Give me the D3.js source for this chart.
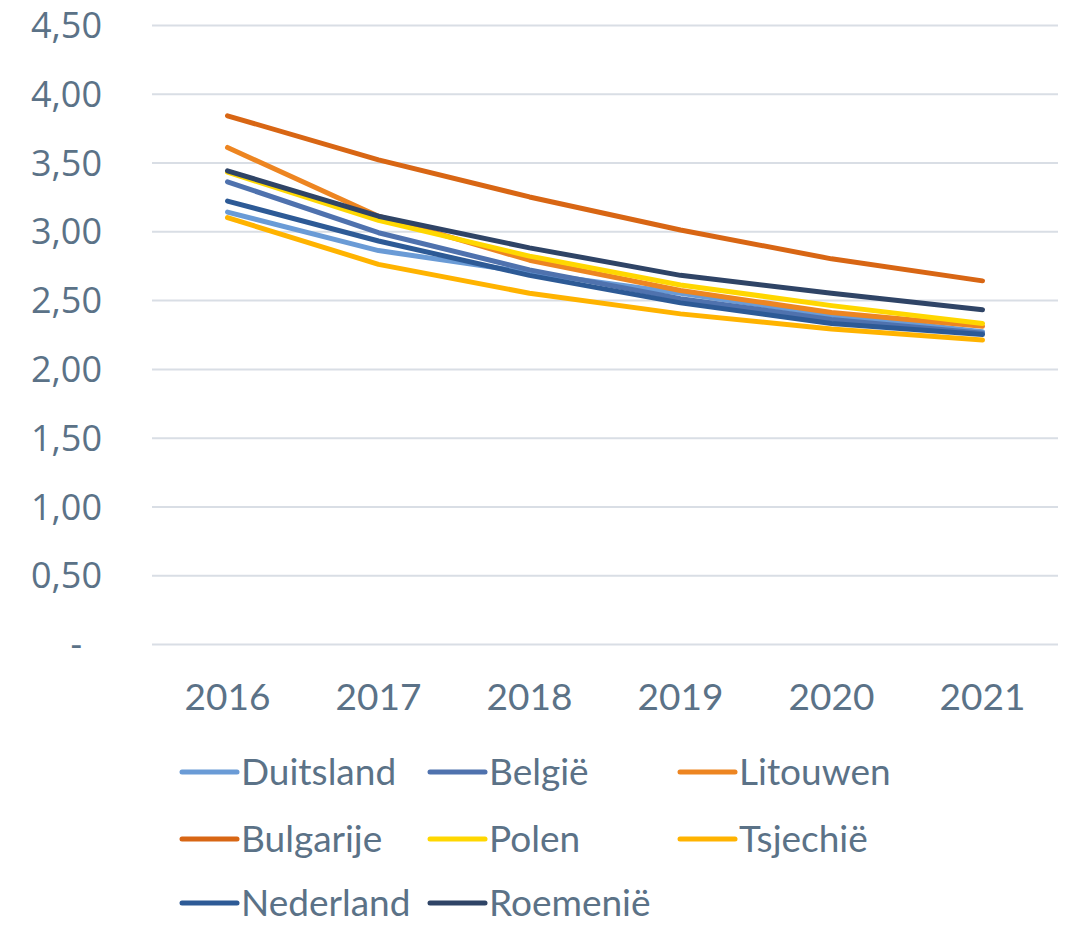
<!DOCTYPE html>
<html>
<head>
<meta charset="utf-8">
<script src="https://cdn.jsdelivr.net/npm/d3@7"></script>
<style>
  body { margin: 0; background: #fff; }
  svg { display: block; }
</style>
</head>
<body>
<div id="chart"></div>
<script>
const years = ["2016", "2017", "2018", "2019", "2020", "2021"];
const yTicks = [0, 0.5, 1, 1.5, 2, 2.5, 3, 3.5, 4, 4.5];

const seriesNames = ["Duitsland", "België", "Litouwen", "Bulgarije", "Polen", "Tsjechië", "Nederland", "Roemenië"];
const seriesColors = ["#6A9BD6", "#4F72AE", "#ED8521", "#D86614", "#FFD700", "#FFB300", "#2D5A96", "#2F4466"];

const duitsland = [3.14, 2.86, 2.70, 2.55, 2.39, 2.27];
const belgie = [3.36, 2.99, 2.72, 2.51, 2.36, 2.26];
const litouwen = [3.61, 3.11, 2.79, 2.57, 2.41, 2.31];
const bulgarije = [3.84, 3.52, 3.25, 3.01, 2.80, 2.64];
const polen = [3.43, 3.08, 2.82, 2.61, 2.46, 2.33];
const tsjechie = [3.10, 2.76, 2.55, 2.40, 2.29, 2.21];
const nederland = [3.22, 2.93, 2.68, 2.48, 2.33, 2.25];
const roemenie = [3.44, 3.11, 2.88, 2.68, 2.55, 2.43];

const seriesValues = [duitsland, belgie, litouwen, bulgarije, polen, tsjechie, nederland, roemenie];

const width = 1069;
const height = 925;
const textColor = "#5B7287";
const gridColor = "#D9DEE5";

const svg = d3.select("#chart")
  .append("svg")
  .attr("width", width)
  .attr("height", height);

const x = d3.scaleBand()
  .domain(years)
  .range([152, 1058]);

const y = d3.scaleLinear()
  .domain([0, 4.5])
  .range([644, 25]);

const fmt = function(d) {
  return d === 0 ? "-" : d3.format(".2f")(d).replace(".", ",");
};

// y axis + gridlines
const yAxis = svg.append("g")
  .attr("transform", "translate(152,0)")
  .call(d3.axisLeft(y)
    .tickValues(yTicks)
    .tickFormat(fmt)
    .tickSize(0)
    .tickPadding(50));

yAxis.select(".domain").remove();
yAxis.selectAll(".tick text")
  .attr("fill", textColor)
  .attr("font-family", "'Open Sans', sans-serif")
  .attr("font-size", 36)
  .attr("dy", "0.35em")
  .attr("dx", function(d) { return d === 0 ? -20 : 0; });

yAxis.selectAll(".tick")
  .append("line")
  .attr("x1", 0)
  .attr("x2", 1058 - 152)
  .attr("stroke", gridColor)
  .attr("stroke-width", 2);

// x axis
const xAxis = svg.append("g")
  .attr("transform", "translate(0,644)")
  .call(d3.axisBottom(x).tickSize(0));

xAxis.select(".domain").remove();
xAxis.selectAll(".tick text")
  .attr("fill", textColor)
  .attr("font-family", "Lato, sans-serif")
  .attr("font-size", 37)
  .attr("dy", "0.35em")
  .attr("y", 53);

const line = d3.line()
  .x(function(d, i) { return x(years[i]) + x.bandwidth() / 2; })
  .y(function(d) { return y(d); });

svg.append("g")
  .selectAll("path")
  .data(seriesValues)
  .enter()
  .append("path")
  .attr("d", line)
  .attr("fill", "none")
  .attr("stroke", function(d, i) { return seriesColors[i]; })
  .attr("stroke-width", 5)
  .attr("stroke-linecap", "round")
  .attr("stroke-linejoin", "round");

// legend
const legendCols = [182, 430, 680];
const legendRows = [772, 839, 903];

const item = svg.append("g")
  .selectAll("g")
  .data(seriesNames)
  .enter()
  .append("g")
  .attr("transform", function(d, i) {
    return "translate(" + legendCols[i % 3] + "," + legendRows[Math.floor(i / 3)] + ")";
  });

item.append("line")
  .attr("x1", 0)
  .attr("x2", 55)
  .attr("stroke", function(d, i) { return seriesColors[i]; })
  .attr("stroke-width", 5)
  .attr("stroke-linecap", "round");

item.append("text")
  .attr("x", 59)
  .attr("dy", "0.36em")
  .attr("fill", textColor)
  .attr("font-family", "Lato, sans-serif")
  .attr("font-size", 37)
  .text(function(d) { return d; });
</script>
</body>
</html>
